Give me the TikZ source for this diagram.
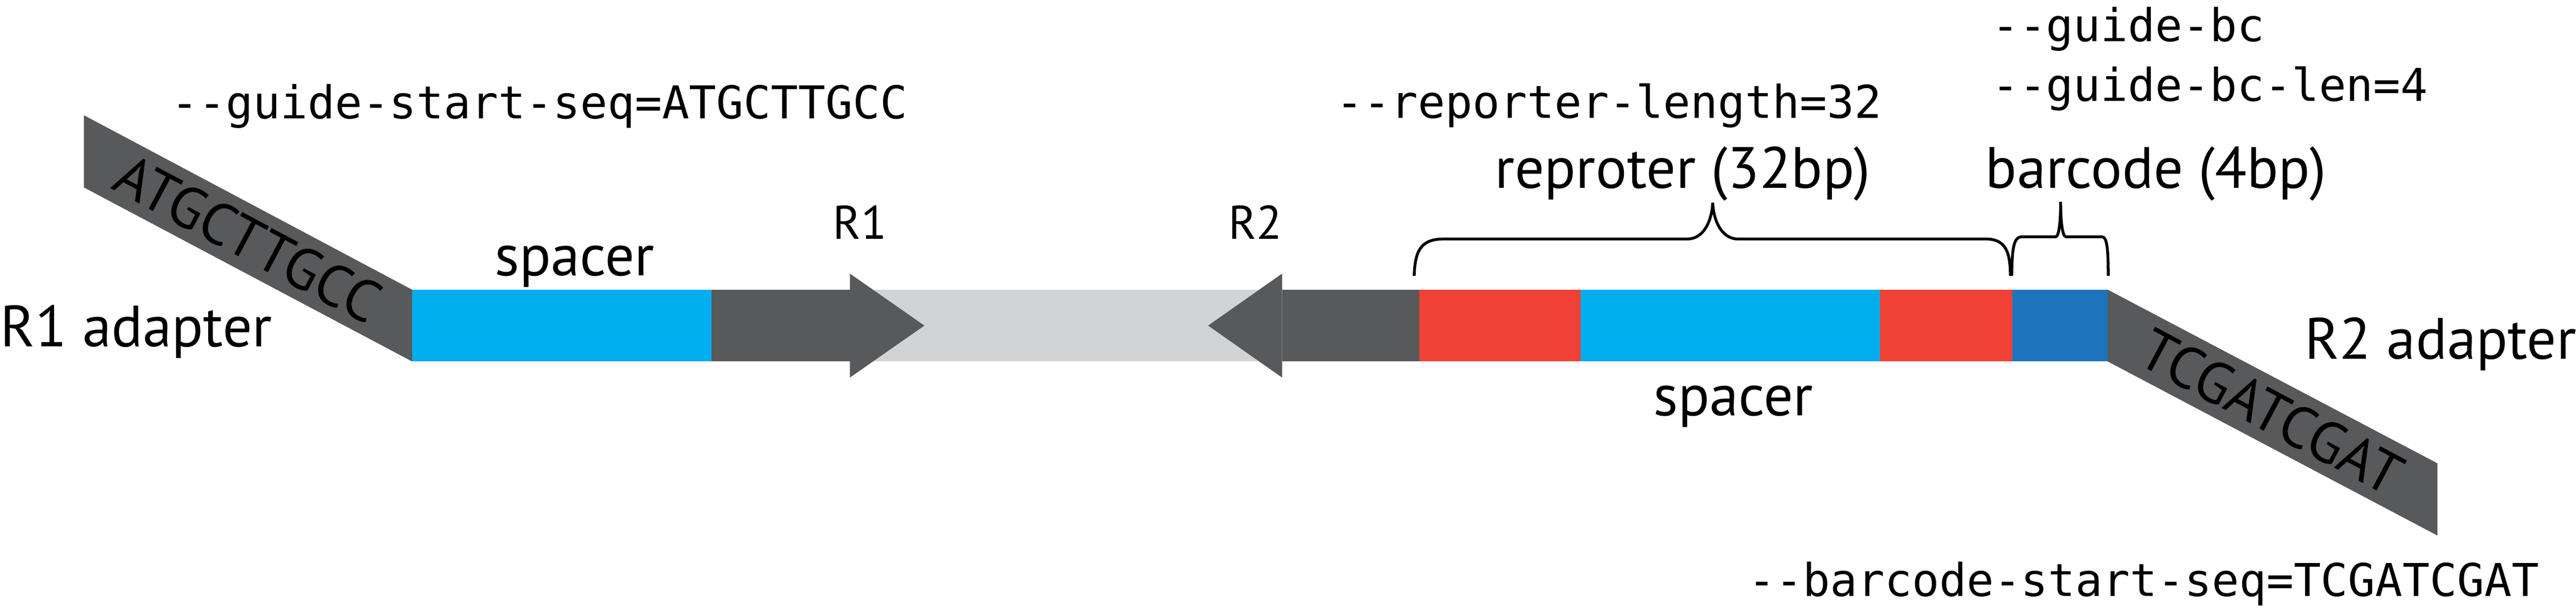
\documentclass[tikz,border=0pt]{standalone}
\usepackage{fontspec}
\setmainfont{PT Sans}
\setmonofont{DejaVu Sans Mono}
\definecolor{adgray}{HTML}{58595B}
\definecolor{ltgray}{HTML}{D1D3D4}
\definecolor{spblue}{HTML}{00AEEF}
\definecolor{rpred}{HTML}{EF4136}
\definecolor{bcblue}{HTML}{1C75BC}
\begin{document}
\begin{tikzpicture}
  [every node/.style={inner sep=0pt},
   lbl/.style={font=\fontsize{37}{40}\selectfont},
   prm/.style={font=\fontsize{30}{34}\selectfont},
   opt/.style={font=\ttfamily\fontsize{28.7}{32}\selectfont,anchor=base west},
   brc/.style={line width=1.8pt}]
  \useasboundingbox (0,0) rectangle (57.38,13.68);
  % adapters
  \fill[adgray] (1.87,11.11) -- (9.18,7.22) -- (9.18,5.62) -- (1.87,9.50) -- cycle;
  \fill[adgray] (46.95,7.22) -- (54.29,3.35) -- (54.29,1.74) -- (46.95,5.62) -- cycle;
  % blocks of the construct
  \foreach \from/\to/\col in {9.18/15.85/spblue,15.85/18.93/adgray,18.93/28.56/ltgray,
      28.56/31.62/adgray,31.62/35.21/rpred,35.21/41.87/spblue,41.87/44.82/rpred,44.82/46.95/bcblue}
    \fill[\col] (\from,5.62) rectangle (\to,7.22);
  % primer heads
  \fill[adgray] (18.93,7.58) -- (20.59,6.42) -- (18.93,5.26) -- cycle;
  \fill[adgray] (28.56,7.58) -- (26.91,6.42) -- (28.56,5.26) -- cycle;
  \node (seq1)[lbl,rotate=-28] at (5.525,8.36) {ATGCTTGCC};
  \node (seq2)[lbl,rotate=-28] at (50.60,4.50) {TCGATCGAT};
  \node (r1ad)[lbl,anchor=base west] at (0.0,5.95) {R1 adapter};
  \node (r2ad)[lbl,anchor=base west] at (51.33,5.68) {R2 adapter};
  \node (spc1)[lbl,anchor=base] at (12.80,7.53) {spacer};
  \node (spc2)[lbl,anchor=base] at (38.61,4.41) {spacer};
  \node (rep)[lbl,anchor=base] at (37.48,9.48) {reproter (32bp)};
  \node (bc)[lbl,anchor=base] at (48.02,9.48) {barcode (4bp)};
  \node (r1)[prm,anchor=base] at (19.15,8.35) {R1};
  \node (r2)[prm,anchor=base] at (27.96,8.35) {R2};
  \node (o1)[opt] at (3.81,11.03) {-{}-guide-start-seq=ATGCTTGCC};
  \node (o2)[opt] at (29.76,11.05) {-{}-reporter-length=32};
  \node (o3)[opt] at (44.36,12.76) {-{}-guide-bc};
  \node (o4)[opt] at (44.36,11.43) {-{}-guide-bc-len=4};
  \node (o5)[opt] at (38.94,0.38) {-{}-barcode-start-seq=TCGATCGAT};
  % braces
  \draw[brc] (31.50,7.53) .. controls (31.52,8.05) and (31.62,8.35) .. (32.15,8.35)
    -- (37.58,8.35) .. controls (37.95,8.35) and (38.13,8.75) .. (38.15,9.16)
    .. controls (38.17,8.75) and (38.35,8.35) .. (38.72,8.35)
    -- (44.24,8.35) .. controls (44.68,8.35) and (44.78,8.05) .. (44.78,7.53);
  \draw[brc] (44.81,7.53) .. controls (44.82,8.15) and (44.85,8.40) .. (45.04,8.40)
    -- (45.79,8.40) .. controls (45.87,8.40) and (45.90,8.80) .. (45.90,9.18)
    .. controls (45.90,8.80) and (45.93,8.40) .. (46.02,8.40)
    -- (46.82,8.40) .. controls (46.93,8.40) and (46.96,8.15) .. (46.96,7.53);
\end{tikzpicture}
\end{document}
